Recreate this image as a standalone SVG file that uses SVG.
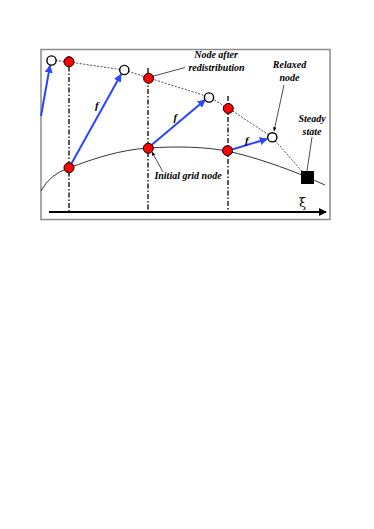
<svg xmlns="http://www.w3.org/2000/svg" width="374" height="529" viewBox="0 0 374 529">
<defs>
<style>
.lbl{font-family:"Liberation Serif","Times New Roman",serif;font-weight:bold;font-style:italic;font-size:10px;fill:#000}
.f{font-family:"Liberation Serif","Times New Roman",serif;font-weight:bold;font-style:italic;font-size:11px;fill:#000}
.vline{stroke:#000;stroke-width:1.3;stroke-dasharray:5 2 1.5 2;fill:none}
.blue{stroke:#2a46ff;stroke-width:2;fill:none;marker-end:url(#ab)}
.lead{stroke:#000;stroke-width:0.7;fill:none}
.red{fill:#ff0000;stroke:#000;stroke-width:1}
.open{fill:#fff;stroke:#000;stroke-width:1.4}
</style>
<marker id="ab" viewBox="0 0 10 10" refX="9" refY="5" markerWidth="4" markerHeight="4" orient="auto" markerUnits="strokeWidth">
<path d="M0,0 L10,5 L0,10 z" fill="#2a46ff"/>
</marker>
<marker id="ak" viewBox="0 0 10 10" refX="9" refY="5" markerWidth="6" markerHeight="6" orient="auto" markerUnits="strokeWidth">
<path d="M0,1 L10,5 L0,9 z" fill="#000"/>
</marker>
<marker id="ax" viewBox="0 0 10 10" refX="9" refY="5" markerWidth="4" markerHeight="4" orient="auto" markerUnits="strokeWidth">
<path d="M0,0 L10,5 L0,10 z" fill="#000"/>
</marker>
</defs>
<rect width="374" height="529" fill="#fff"/>
<rect id="frame" x="41" y="49.5" width="289" height="170" fill="none" stroke="#8c8c8c" stroke-width="1.5"/>
<g id="connectors">
<path d="M41,191 Q50,174 69,168 C95,158 120,150 148,148 C180,146 205,147 227,151 C255,157 285,168 307,177 L325,185" stroke="#000" stroke-width="0.8" fill="none"/>
<path d="M52,60 L69,62 L124,70 L149,78 L209,97 L228,108 L272,137 L307,177" stroke="#000" stroke-width="0.7" stroke-dasharray="2 1.5" fill="none"/>
<line class="vline" x1="69" y1="56" x2="69" y2="212"/>
<line class="vline" x1="148" y1="68" x2="148" y2="212"/>
<line class="vline" x1="228" y1="96" x2="228" y2="212"/>
<line x1="49" y1="212" x2="326" y2="212" stroke="#000" stroke-width="2" marker-end="url(#ax)"/>
<line class="blue" x1="41" y1="116" x2="50" y2="65.5"/>
<line class="blue" x1="69" y1="168" x2="121" y2="74.5"/>
<line class="blue" x1="148" y1="148" x2="205" y2="100"/>
<line class="blue" x1="227" y1="151" x2="267" y2="139"/>
<line class="lead" x1="185" y1="67.5" x2="152" y2="76.5"/>
<line class="lead" x1="163" y1="172" x2="152" y2="152" marker-end="url(#ak)"/>
<line class="lead" x1="284" y1="85" x2="274" y2="131" marker-end="url(#ak)"/>
<line class="lead" x1="312" y1="137" x2="307" y2="171"/>
</g>
<g id="relaxed-1"><circle class="open" cx="51.5" cy="60.5" r="4.6"/></g>
<g id="redist-1"><circle class="red" cx="69" cy="61.8" r="5"/></g>
<g id="relaxed-2"><circle class="open" cx="124.3" cy="70" r="4.6"/></g>
<g id="redist-2"><circle class="red" cx="148.6" cy="78.3" r="5"/></g>
<g id="relaxed-3"><circle class="open" cx="209" cy="97.5" r="4.6"/></g>
<g id="redist-3"><circle class="red" cx="228.3" cy="108.5" r="5"/></g>
<g id="relaxed-4"><circle class="open" cx="272.3" cy="137.3" r="4.6"/></g>
<g id="grid-1"><circle class="red" cx="69" cy="167.7" r="5"/></g>
<g id="grid-2"><circle class="red" cx="148.3" cy="148.3" r="5"/></g>
<g id="grid-3"><circle class="red" cx="227.5" cy="150.7" r="5"/></g>
<g id="steady"><rect x="301" y="171" width="13" height="13" fill="#000"/></g>
<g id="labels">
<text class="f" x="95" y="108.5">f</text>
<text class="f" x="173.5" y="120.5">f</text>
<text class="f" x="245" y="143.5">f</text>
<text class="lbl" x="216" y="58.3" text-anchor="middle">Node after</text>
<text class="lbl" x="216.5" y="71" text-anchor="middle">redistribution</text>
<text class="lbl" x="289.5" y="68.3" text-anchor="middle">Relaxed</text>
<text class="lbl" x="289.5" y="80.7" text-anchor="middle">node</text>
<text class="lbl" x="312" y="121.7" text-anchor="middle">Steady</text>
<text class="lbl" x="312" y="135" text-anchor="middle">state</text>
<text class="lbl" x="188" y="179" text-anchor="middle">Initial grid node</text>
<text x="299" y="207" font-family="DejaVu Serif,serif" font-size="13" fill="#000">ξ</text>
</g>
</svg>
